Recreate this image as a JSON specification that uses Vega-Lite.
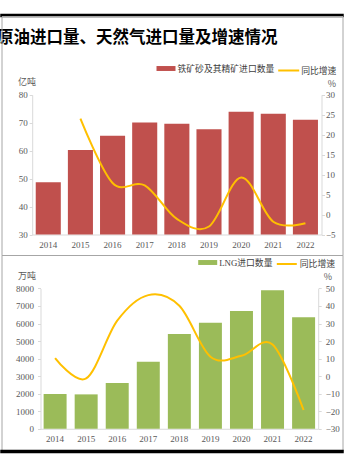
{
  "$schema": "https://vega.github.io/schema/vega-lite/v6.json",
  "padding": {"left": -4.5, "top": 13, "right": 0, "bottom": 0},
  "background": "white",
  "bounds": "flush",
  "spacing": 0,
  "resolve": {
    "scale": {"color": "independent", "stroke": "independent"},
    "legend": {"color": "independent", "stroke": "independent"}
  },
  "datasets": {
    "iron": [
      {"year": "2014", "qty": 48.7, "growth": null},
      {"year": "2015", "qty": 60.2, "growth": 24.0},
      {"year": "2016", "qty": 65.3, "growth": 7.9},
      {"year": "2017", "qty": 70.1, "growth": 7.3},
      {"year": "2018", "qty": 69.6, "growth": -1.1},
      {"year": "2019", "qty": 67.7, "growth": -3.0},
      {"year": "2020", "qty": 73.9, "growth": 9.3},
      {"year": "2021", "qty": 73.2, "growth": -1.8},
      {"year": "2022", "qty": 71.1, "growth": -2.2}
    ],
    "lng": [
      {"year": "2014", "qty": 1980, "growth": 10.3},
      {"year": "2015", "qty": 1960, "growth": -1.3},
      {"year": "2016", "qty": 2610, "growth": 31.6},
      {"year": "2017", "qty": 3820, "growth": 46.2},
      {"year": "2018", "qty": 5400, "growth": 40.1},
      {"year": "2019", "qty": 6040, "growth": 11.1},
      {"year": "2020", "qty": 6710, "growth": 11.6},
      {"year": "2021", "qty": 7900, "growth": 18.1},
      {"year": "2022", "qty": 6360, "growth": -19.3}
    ]
  },
  "config": {
    "view": {"stroke": null},
    "axis": {
      "labelFont": "Liberation Serif",
      "labelFontSize": 9,
      "labelColor": "#595959",
      "domainColor": "#d9d9d9",
      "tickColor": "#d9d9d9",
      "tickSize": 3,
      "grid": false,
      "titleFont": "Noto Sans CJK SC",
      "titleFontSize": 9,
      "titleColor": "#595959",
      "titleFontWeight": "normal"
    },
    "legend": {
      "labelFont": "Liberation Serif, Noto Sans CJK SC",
      "labelFontSize": 8.8,
      "labelColor": "#404040",
      "padding": 0
    }
  },
  "vconcat": [
    {
      "width": 341,
      "height": 1,
      "data": {"values": []},
      "mark": "point",
      "view": {"stroke": "#000000", "strokeWidth": 2.5},
      "title": {
        "text": "原油进口量、天然气进口量及增速情况",
        "orient": "bottom",
        "anchor": "start",
        "offset": 14,
        "dx": -4.5,
        "font": "Noto Sans CJK SC",
        "fontSize": 16.5,
        "fontWeight": "bold",
        "color": "#000000"
      }
    },
    {
      "width": 341,
      "height": 239,
      "view": {"stroke": "#a6a6a6", "strokeWidth": 1},
      "data": {"name": "iron"},
      "layer": [
        {
          "mark": {"type": "bar"},
          "encoding": {
            "x": {
              "field": "year", "type": "ordinal",
              "scale": {"range": [30.7, 320], "paddingInner": 0.22, "paddingOuter": 0.11},
              "axis": {"orient": "bottom", "offset": -20.5, "labelAngle": 0, "ticks": false, "labelPadding": 6, "title": null}
            },
            "y": {
              "field": "qty", "type": "quantitative",
              "scale": {"domain": [30, 80], "range": [218.5, 78.75], "zero": false, "nice": false},
              "axis": {
                "orient": "left", "offset": -30.7, "values": [30, 40, 50, 60, 70, 80], "format": "d",
                "labelPadding": 2, "title": "亿吨", "titleAngle": 0, "titleAlign": "left",
                "titleBaseline": "middle", "titleX": -14.7, "titleY": 65.5
              }
            },
            "y2": {"datum": 30},
            "color": {
              "datum": "铁矿砂及其精矿进口数量",
              "scale": {"range": ["#C0504D"]},
              "legend": {
                "orient": "none", "legendX": 155, "legendY": 43, "direction": "horizontal", "title": null,
                "symbolType": "M-1,-0.26H1V0.26H-1Z", "symbolSize": 361, "symbolStrokeWidth": 0, "labelOffset": 2
              }
            }
          }
        },
        {
          "transform": [{"filter": "isValid(datum.growth)"}],
          "mark": {"type": "line", "interpolate": "cardinal", "strokeWidth": 2},
          "encoding": {
            "x": {"field": "year", "type": "ordinal"},
            "y": {
              "field": "growth", "type": "quantitative",
              "scale": {"domain": [-5, 30], "range": [218.5, 78.75], "zero": false, "nice": false},
              "axis": {
                "orient": "right", "offset": -21, "values": [-5, 0, 5, 10, 15, 20, 25, 30], "format": "d",
                "labelPadding": 1, "title": "%", "titleAngle": 0, "titleAlign": "center",
                "titleBaseline": "middle", "titleX": 10, "titleY": 67
              }
            },
            "stroke": {
              "datum": "同比增速",
              "scale": {"range": ["#FFC000"]},
              "legend": {
                "orient": "none", "legendX": 275.7, "legendY": 43, "direction": "horizontal", "title": null,
                "symbolType": "stroke", "symbolSize": 441, "symbolStrokeWidth": 2, "labelOffset": 1
              }
            }
          }
        }
      ],
      "resolve": {"scale": {"y": "independent"}, "axis": {"y": "independent"}}
    },
    {
      "width": 341,
      "height": 196,
      "view": {"stroke": "#a6a6a6", "strokeWidth": 1},
      "data": {"name": "lng"},
      "layer": [
        {
          "mark": {"type": "bar"},
          "encoding": {
            "x": {
              "field": "year", "type": "ordinal",
              "scale": {"range": [39, 316.7], "paddingInner": 0.26, "paddingOuter": 0.1},
              "axis": {"orient": "bottom", "offset": -22.25, "labelAngle": 0, "ticks": false, "labelPadding": 6, "title": null}
            },
            "y": {
              "field": "qty", "type": "quantitative",
              "scale": {"domain": [0, 8000], "range": [173.75, 33.45], "nice": false},
              "axis": {
                "orient": "left", "offset": -39, "values": [0, 1000, 2000, 3000, 4000, 5000, 6000, 7000, 8000], "format": "d",
                "labelPadding": 4, "title": "万吨", "titleAngle": 0, "titleAlign": "left",
                "titleBaseline": "middle", "titleX": -23, "titleY": 20
              }
            },
            "y2": {"datum": 0},
            "color": {
              "datum": "LNG进口数量",
              "scale": {"range": ["#9BBB59"]},
              "legend": {
                "orient": "none", "legendX": 196.7, "legendY": -2, "direction": "horizontal", "title": null,
                "symbolType": "M-1,-0.26H1V0.26H-1Z", "symbolSize": 361, "symbolStrokeWidth": 0, "labelOffset": 2
              }
            }
          }
        },
        {
          "mark": {"type": "line", "interpolate": "cardinal", "strokeWidth": 2},
          "encoding": {
            "x": {"field": "year", "type": "ordinal"},
            "y": {
              "field": "growth", "type": "quantitative",
              "scale": {"domain": [-30, 50], "range": [173.75, 33.45], "zero": false, "nice": false},
              "axis": {
                "orient": "right", "offset": -24.3, "values": [-30, -20, -10, 0, 10, 20, 30, 40, 50], "format": "d",
                "labelPadding": 4, "title": "%", "titleAngle": 0, "titleAlign": "center",
                "titleBaseline": "middle", "titleX": 9.3, "titleY": 21
              }
            },
            "stroke": {
              "datum": "同比增速",
              "scale": {"range": ["#FFC000"]},
              "legend": {
                "orient": "none", "legendX": 274.3, "legendY": -2, "direction": "horizontal", "title": null,
                "symbolType": "stroke", "symbolSize": 400, "symbolStrokeWidth": 2, "labelOffset": 2
              }
            }
          }
        }
      ],
      "resolve": {"scale": {"y": "independent"}, "axis": {"y": "independent"}}
    },
    {
      "width": 341,
      "height": 1,
      "data": {"values": []},
      "mark": "point",
      "view": {"stroke": "#000000", "strokeWidth": 2.5}
    }
  ]
}
